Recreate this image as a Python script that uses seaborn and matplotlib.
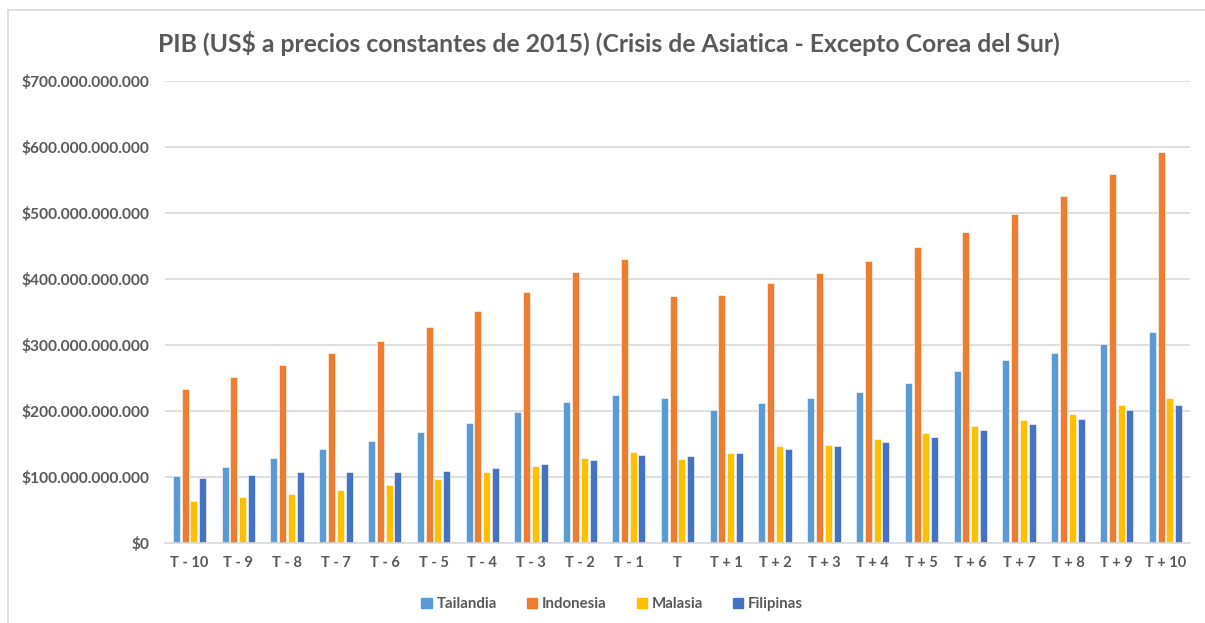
import matplotlib
matplotlib.use("Agg")
import matplotlib.pyplot as plt
import matplotlib.ticker as mticker
from matplotlib.lines import Line2D
import seaborn as sns
import pandas as pd

# years around the Asian crisis
periods = ["T - 10", "T - 9", "T - 8", "T - 7", "T - 6", "T - 5", "T - 4", "T - 3", "T - 2", "T - 1",
           "T", "T + 1", "T + 2", "T + 3", "T + 4", "T + 5", "T + 6", "T + 7", "T + 8", "T + 9", "T + 10"]

# GDP, billions of constant 2015 US$
tailandia = [102, 115, 129, 143, 155, 168, 182, 198, 214, 225, 219, 202, 212, 220, 229, 243, 260, 277, 288, 302, 320]
indonesia = [234, 251, 270, 288, 306, 327, 351, 381, 411, 430, 374, 376, 394, 409, 427, 449, 471, 498, 525, 559, 592]
malasia = [63, 69, 74, 81, 88, 97, 107, 116, 129, 138, 128, 136, 147, 148, 157, 166, 177, 187, 196, 209, 219]
filipinas = [98, 103, 107, 107, 107, 109, 113, 119, 126, 133, 132, 136, 143, 147, 153, 160, 171, 180, 188, 201, 209]

countries = ["Tailandia", "Indonesia", "Malasia", "Filipinas"]
colors = ["#5B9BD5", "#ED7D31", "#FFC000", "#4472C4"]

rows = []
for name, vals in zip(countries, [tailandia, indonesia, malasia, filipinas]):
    for p, v in zip(periods, vals):
        rows.append({"Periodo": p, "Pais": name, "PIB": v * 1e9})
df = pd.DataFrame(rows)

sns.set_style("white")
plt.rcParams['font.family'] = ['Lato', 'DejaVu Sans']

fig = plt.figure(figsize=(12.05, 6.23), dpi=100)
ax = fig.add_axes([0.137, 0.1284, 0.8505, 0.7416])

sns.barplot(data=df, x="Periodo", y="PIB", hue="Pais", order=periods, hue_order=countries,
            palette=colors, width=0.72, gap=0.2, edgecolor="white", linewidth=0.4,
            errorbar=None, ax=ax, saturation=1)

gray = "#595959"
ax.set_ylim(0, 700e9)
ax.set_xlim(-0.5, len(periods) - 0.5)
ax.yaxis.set_major_locator(mticker.MultipleLocator(100e9))
ax.yaxis.set_major_formatter(mticker.FuncFormatter(lambda v, p: "$" + f"{int(round(v)):,}".replace(",", ".")))
ax.grid(axis="y", color="#D9D9D9", linewidth=1.2)
ax.set_axisbelow(True)
for s in ["top", "right", "left"]:
    ax.spines[s].set_visible(False)
ax.spines["bottom"].set_color("#D9D9D9")
ax.spines["bottom"].set_linewidth(1.2)
ax.tick_params(axis="both", length=0, labelcolor=gray, labelsize=10.5)
ax.tick_params(axis="y", pad=11, labelsize=11.2)
ax.tick_params(axis="x", pad=9)
for lbl in ax.get_xticklabels() + ax.get_yticklabels():
    lbl.set_fontweight("bold")
ax.set_xlabel("")
ax.set_ylabel("")

fig.text(0.505, 0.93, "PIB (US$ a precios constantes de 2015) (Crisis de Asiatica - Excepto Corea del Sur)",
         ha="center", va="center", fontsize=17.8, fontweight="bold", color=gray)

ax.legend_.remove()
handles = [plt.Rectangle((0, 0), 1, 1, color=c) for c in colors]
fig.legend(handles, countries, loc="center", bbox_to_anchor=(0.508, 0.03), ncol=4, frameon=False,
           handlelength=0.7, handleheight=0.7, handletextpad=0.3, columnspacing=2.0,
           prop={"size": 10.8, "weight": "bold"}, labelcolor=gray)

# chart frame
fig.add_artist(Line2D([8 / 1205, 8 / 1205], [0, 1 - 10 / 623], transform=fig.transFigure, color="#D9D9D9", lw=1.2))
fig.add_artist(Line2D([8 / 1205, 1], [1 - 10 / 623, 1 - 10 / 623], transform=fig.transFigure, color="#D9D9D9", lw=1.2))

fig.savefig("out.png", dpi=100, facecolor="white")
